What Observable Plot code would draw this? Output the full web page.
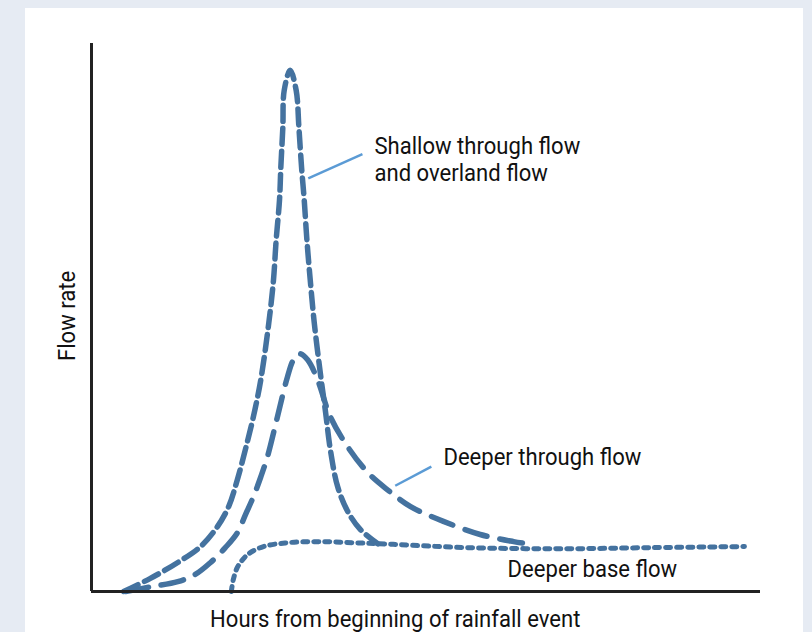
<!DOCTYPE html>
<html><head><meta charset="utf-8">
<script src="https://cdn.jsdelivr.net/npm/d3@7"></script>
<script src="https://cdn.jsdelivr.net/npm/@observablehq/plot@0.6"></script>
<style>
html,body{margin:0;padding:0;background:#e6ebf3;width:812px;height:632px;overflow:hidden}
#panel{position:absolute;left:25px;top:8px;width:778px;height:624px;background:#fff;overflow:hidden}
</style></head><body><div id="panel"></div>
<script>
// Hours (0–100 across the axis) and flow rate (0–100 up the axis)
const shallowHours = [4.8, 8.8, 12.9, 16.3, 18.8, 20.5, 21.8, 23.0, 24.2, 25.3, 26.5, 27.2, 27.6, 28.1, 28.3, 28.6, 28.8, 29.7, 30.6, 31.0, 31.4, 31.8, 32.2, 32.7, 33.3, 34.2, 35.0, 35.7, 36.8, 38.3, 40.2, 42.8];
const shallowFlow  = [0, 2.4, 5.3, 8.2, 11.8, 15.5, 20.4, 25.9, 31.9, 38.6, 49.0, 56.8, 64.1, 71.4, 77.4, 84.7, 91.4, 95.1, 91.4, 84.7, 77.4, 71.4, 64.1, 56.8, 49.0, 39.9, 32.6, 25.9, 19.1, 14.6, 11.3, 8.7];
const throughHours = [5.1, 9.1, 12.9, 15.5, 17.8, 20.0, 21.8, 23.0, 24.2, 25.3, 26.3, 27.8, 29.3, 30.2, 31.1, 32.3, 33.8, 35.7, 38.3, 41.3, 44.2, 47.7, 52.6, 58.1, 63.1, 65.2];
const throughFlow  = [0, 0.9, 1.8, 3.1, 5.3, 8.0, 10.7, 14.0, 17.3, 20.9, 24.6, 31.9, 39.2, 42.3, 43.4, 42.3, 38.6, 31.9, 26.4, 21.7, 18.6, 15.5, 12.8, 10.4, 9.1, 8.7];
const baseHours    = [20.9, 21.2, 21.8, 22.6, 23.5, 25.7, 29.3, 33.8, 39.2, 45.1, 56.2, 70.1, 83.6, 97.6];
const baseFlow     = [0, 2.2, 4.4, 5.8, 6.9, 8.2, 8.9, 9.1, 8.9, 8.6, 8.0, 7.8, 8.0, 8.2];

// Annotation labels and their leader lines (in data units)
const labelText  = ["Shallow through flow\nand overland flow", "Deeper through flow", "Deeper base flow"];
const labelHours = [42.3, 52.6, 62.2];
const labelFlow  = [74.9, 23.1, 2.6];
const leaderFrom = [[32.4, 75.4], [45.4, 19.3]];
const leaderTo   = [[40.5, 79.8], [50.8, 22.8]];

const xLabel = "Hours from beginning of rainfall event";
const yLabel = "Flow rate";

const blue = "#44729f";
const leaderBlue = "#5b9bd5";

const pts = (xs, ys) => xs.map((x, i) => ({x, y: ys[i]}));
const shallow = pts(shallowHours, shallowFlow);
const through = pts(throughHours, throughFlow);
const base = pts(baseHours, baseFlow);
const labels = labelText.map((t, i) => ({t, x: labelHours[i], y: labelFlow[i]}));
const leaders = leaderFrom.map((f, i) => ({x1: f[0], y1: f[1], x2: leaderTo[i][0], y2: leaderTo[i][1]}));

const textStyle = {fontSize: 24, fill: "#111", fontFamily: "Roboto"};

const chart = Plot.plot({
  width: 778, height: 624,
  marginLeft: 66, marginRight: 43, marginTop: 35, marginBottom: 41,
  x: {domain: [0, 100], axis: null},
  y: {domain: [0, 100], axis: null},
  style: {fontFamily: "Roboto", background: "transparent", overflow: "visible"},
  marks: [
    Plot.line(base, {x: "x", y: "y", curve: "catmull-rom", stroke: blue, strokeWidth: 5, strokeDasharray: "5,6"}),
    Plot.line(through, {x: "x", y: "y", curve: "catmull-rom", stroke: blue, strokeWidth: 5.5, strokeDasharray: "23,13"}),
    Plot.line(shallow, {x: "x", y: "y", curve: "catmull-rom", stroke: blue, strokeWidth: 5.5, strokeDasharray: "16,7"}),
    Plot.link(leaders, {x1: "x1", y1: "y1", x2: "x2", y2: "y2", stroke: leaderBlue, strokeWidth: 2.5}),
    Plot.ruleX([0], {stroke: "#222", strokeWidth: 3}),
    Plot.ruleY([0], {stroke: "#222", strokeWidth: 3}),
    Plot.text(labels, {x: "x", y: "y", text: "t", textAnchor: "start", lineAnchor: "bottom", lineHeight: 1.125, ...textStyle}),
    Plot.text([{t: xLabel, x: 45.4, y: 0}], {x: "x", y: "y", text: "t", dy: 35, textAnchor: "middle", lineAnchor: "bottom", ...textStyle}),
    Plot.text([{t: yLabel, y: 50.3}], {y: "y", text: "t", frameAnchor: "left", dx: -17, rotate: -90, textAnchor: "middle", lineAnchor: "bottom", ...textStyle})
  ]
});

// emulate a condensed face: compress glyphs along the reading direction
chart.querySelectorAll('g[aria-label="text"] text').forEach(t => {
  const tr = t.getAttribute("transform");
  if (tr) t.setAttribute("transform", tr + " scale(0.92,1)");
});

document.getElementById("panel").appendChild(chart);
</script>
</body></html>
